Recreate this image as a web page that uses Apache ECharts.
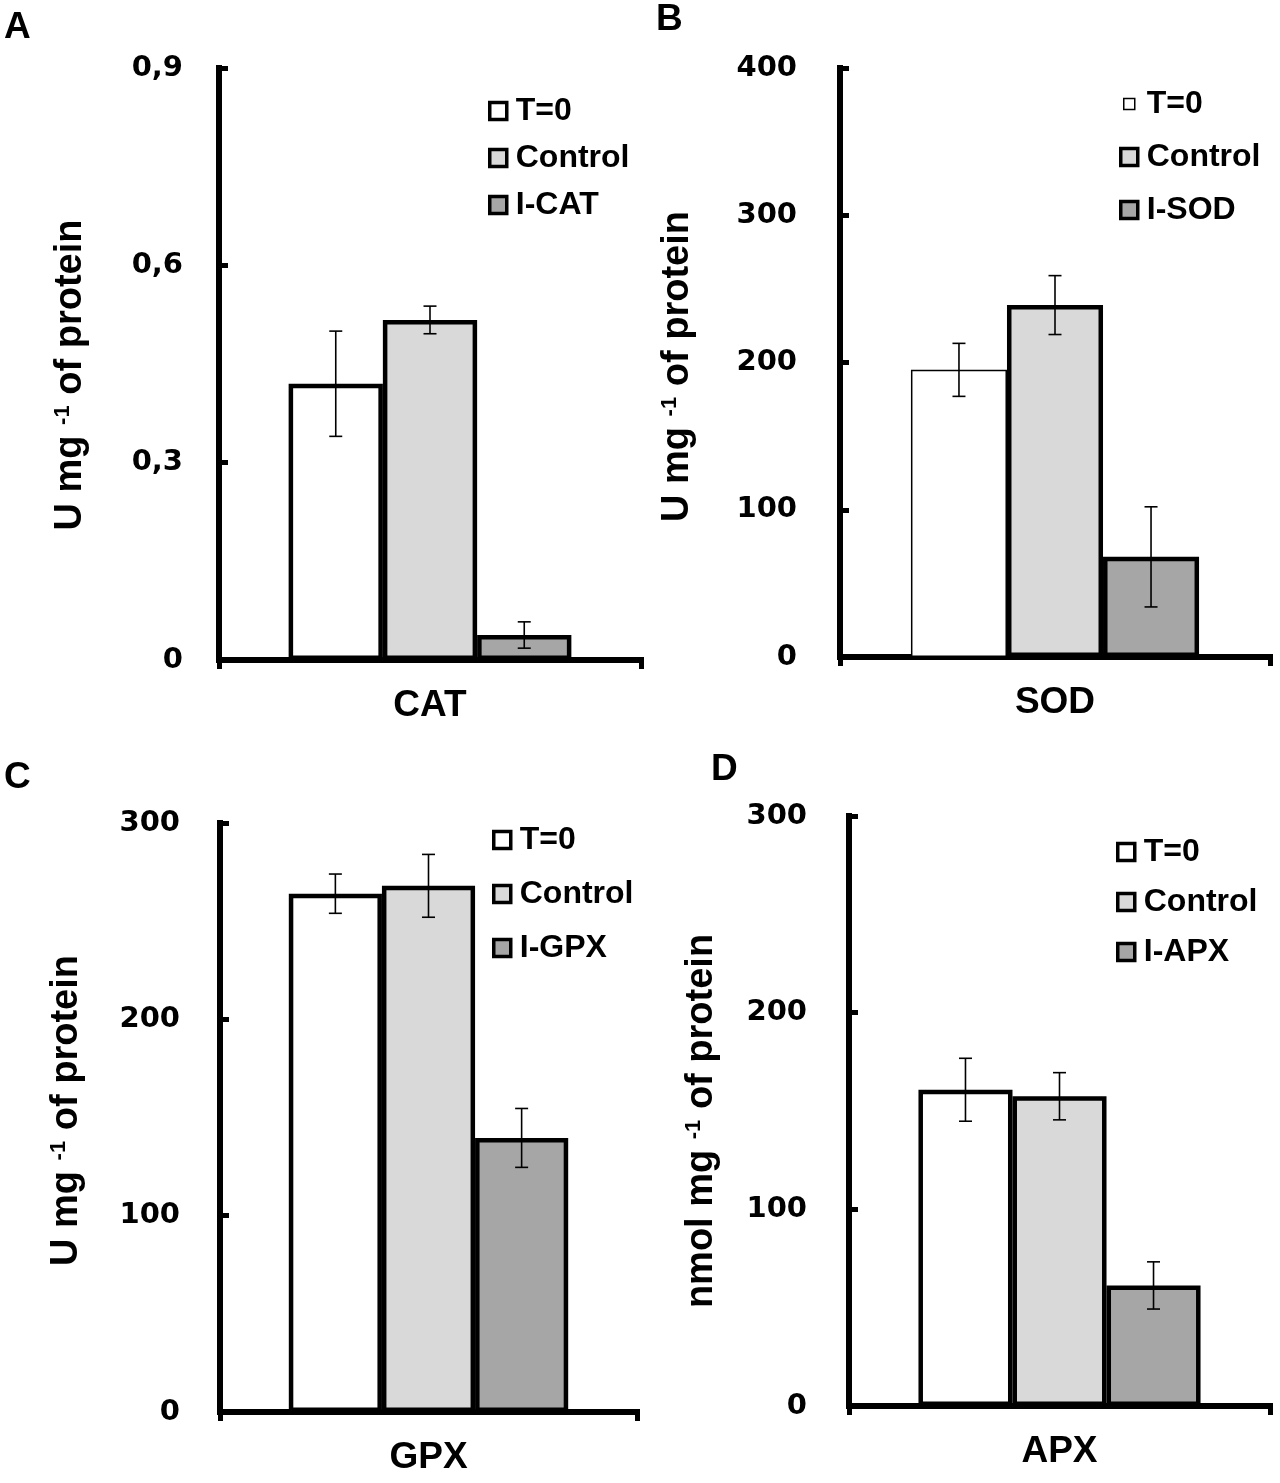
<!DOCTYPE html>
<html>
<head>
<meta charset="utf-8">
<script src="https://cdn.jsdelivr.net/npm/echarts@6/dist/echarts.min.js"></script>
<style>
html,body{margin:0;padding:0;background:#fff;}
#chart{width:1280px;height:1483px;}
</style>
</head>
<body>
<div id="chart"></div>
<script>
// ---- data ----
const categories = ['CAT', 'SOD', 'GPX', 'APX'];
const panelLetters = ['A', 'B', 'C', 'D'];
const seriesNamesCAT = ['T=0', 'Control', 'I-CAT'];
const seriesNamesSOD = ['T=0', 'Control', 'I-SOD'];
const seriesNamesGPX = ['T=0', 'Control', 'I-GPX'];
const seriesNamesAPX = ['T=0', 'Control', 'I-APX'];
const valuesCAT = [0.42, 0.517, 0.038];
const errorsCAT = [0.08, 0.021, 0.02];
const valuesSOD = [195, 239, 68];
const errorsSOD = [18, 20, 34];
const valuesGPX = [264, 268, 139.6];
const errorsGPX = [10, 16, 15];
const valuesAPX = [160.8, 157.5, 61.3];
const errorsAPX = [16, 12, 12];
const yMax = [0.9, 400, 300, 300];
const yInterval = [0.3, 100, 100, 100];
const yTitleUnit = ['U mg ', 'U mg ', 'U mg ', 'nmol mg '];
const yTitleSup = '-1';
const yTitleRest = ' of protein';

const names = [seriesNamesCAT, seriesNamesSOD, seriesNamesGPX, seriesNamesAPX];
const values = [valuesCAT, valuesSOD, valuesGPX, valuesAPX];
const errors = [errorsCAT, errorsSOD, errorsGPX, errorsAPX];

// ---- layout / style ----
const FONT = "'Liberation Sans', Arial, sans-serif";
const TICKFONT = "'DejaVu Sans', sans-serif";
const GAP = 0.33;
const fills = ['#ffffff', '#d9d9d9', '#a6a6a6'];
const grids = [
  {left: 219, top: 68, width: 422, height: 592},
  {left: 840, top: 68, width: 430, height: 589},
  {left: 220, top: 823, width: 417, height: 589},
  {left: 849, top: 816, width: 421, height: 590}
];
const nameGaps = [129, 143, 134, 128];
const nameShift = [11, 4, -7, 10]; // positive = move title down
const labelMargins = [36, 43, 40, 42];
const legendPos = [
  {left: 483, top: 90, itemGap: 15},
  {left: 1114, top: 83, itemGap: 21},
  {left: 487, top: 819, itemGap: 22},
  {left: 1111, top: 831, itemGap: 18}
];
const borderWidths = [[4.5, 4.5, 4.5], [1.5, 4.5, 4.5], [4.5, 4.5, 4.5], [4.5, 4.5, 4.5]];
const letterPos = [[4, 29], [656, 21], [4, 779], [711, 771]];

function errRender(params, api) {
  const idx = api.value(3);
  const lo = api.coord([0, api.value(1)]);
  const hi = api.coord([0, api.value(2)]);
  const band = api.size([1, 0])[0];
  const bw = band * (1 - GAP) / 3;
  const x = lo[0] + (idx - 1) * bw;
  const c = 6.5;
  const st = {stroke: '#000', lineWidth: 1.6};
  return {
    type: 'group',
    children: [
      {type: 'line', shape: {x1: x, y1: hi[1], x2: x, y2: lo[1]}, style: st},
      {type: 'line', shape: {x1: x - c, y1: hi[1], x2: x + c, y2: hi[1]}, style: st},
      {type: 'line', shape: {x1: x - c, y1: lo[1], x2: x + c, y2: lo[1]}, style: st}
    ]
  };
}

const option = {
  animation: false,
  backgroundColor: '#fff',
  grid: [], xAxis: [], yAxis: [], series: [], legend: [], graphic: []
};

for (let p = 0; p < 4; p++) {
  option.grid.push(Object.assign({containLabel: false}, grids[p]));
  option.xAxis.push({
    gridIndex: p, type: 'category', data: [categories[p]],
    axisLine: {show: true, lineStyle: {color: '#000', width: 6, cap: 'square'}},
    axisTick: {show: true, length: 9, lineStyle: {color: '#000', width: 5}},
    axisLabel: {margin: 27, fontSize: 37, fontWeight: 'bold', color: '#000', fontFamily: FONT},
    splitLine: {show: false}
  });
  const sh = nameShift[p];
  option.yAxis.push({
    gridIndex: p, type: 'value', min: 0, max: yMax[p], interval: yInterval[p],
    axisLine: {show: true, lineStyle: {color: '#000', width: 6, cap: 'square'}},
    axisTick: {show: true, inside: true, length: 9, lineStyle: {color: '#000', width: 5}},
    splitLine: {show: false},
    axisLabel: {
      margin: labelMargins[p], fontSize: 29, fontWeight: 'bold', color: '#000', fontFamily: TICKFONT,
      formatter: v => String(+v.toFixed(6)).replace('.', ',')
    },
    name: '{a|' + yTitleUnit[p] + '}{s|' + yTitleSup + '}{a|' + yTitleRest + '}',
    nameLocation: 'middle', nameGap: nameGaps[p],
    nameTextStyle: {
      padding: sh > 0 ? [0, 2 * sh, 0, 0] : [0, 0, 0, -2 * sh],
      rich: {
        a: {fontSize: 38, fontWeight: 'bold', color: '#000', fontFamily: FONT},
        s: {fontSize: 22, fontWeight: 'bold', color: '#000', fontFamily: FONT, verticalAlign: 'top'}
      }
    }
  });
  const legendData = [];
  for (let i = 0; i < 3; i++) {
    option.series.push({
      type: 'bar', name: names[p][i], xAxisIndex: p, yAxisIndex: p,
      data: [values[p][i]], barGap: '0%', barCategoryGap: (GAP * 100) + '%',
      itemStyle: {color: fills[i], borderColor: '#000', borderWidth: borderWidths[p][i]},
      emphasis: {disabled: true}, z: 2
    });
    const thin = borderWidths[p][i] < 2;
    const ld = {
      name: names[p][i],
      itemStyle: {color: fills[i], borderColor: '#000', borderWidth: thin ? 1.5 : 3.5}
    };
    if (thin) ld.icon = 'path://M0,0M17,17M3,3h11v11h-11z';
    legendData.push(ld);
  }
  option.series.push({
    type: 'custom', xAxisIndex: p, yAxisIndex: p, renderItem: errRender, z: 5,
    encode: {x: 0, y: [1, 2]},
    data: values[p].map((v, i) => [0, v - errors[p][i], v + errors[p][i], i]),
    silent: true
  });
  option.legend.push({
    orient: 'vertical', left: legendPos[p].left, top: legendPos[p].top, itemGap: legendPos[p].itemGap,
    icon: 'rect', itemWidth: 17, itemHeight: 17, selectedMode: false,
    textStyle: {fontSize: 32, fontWeight: 'bold', color: '#000', fontFamily: FONT, padding: [0, 0, 0, 4]},
    data: legendData
  });
  option.graphic.push({
    type: 'text', left: letterPos[p][0], top: letterPos[p][1] - 20,
    style: {text: panelLetters[p], font: 'bold 37px ' + FONT, fill: '#000'}
  });
}

const chart = echarts.init(document.getElementById('chart'));
chart.setOption(option);
</script>
</body>
</html>
